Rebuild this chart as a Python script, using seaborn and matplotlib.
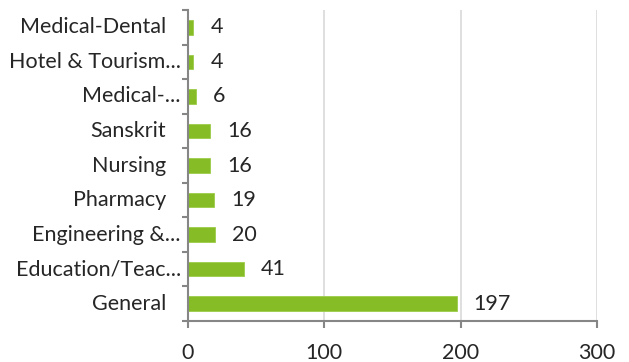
import matplotlib
matplotlib.use("Agg")
import matplotlib.pyplot as plt
import matplotlib.transforms as mtransforms
import seaborn as sns
import pandas as pd
import numpy as np

categories = ["Medical-Dental", "Hotel & Tourism...", "Medical-...", "Sanskrit", "Nursing",
              "Pharmacy", "Engineering &...", "Education/Teac...", "General"]
values = [4, 4, 6, 16, 16, 19, 20, 41, 197]
truncated = [False, True, True, False, False, False, True, True, False]
xticks = [0, 100, 200, 300]

sns.set_theme(style="white")
plt.rcParams['font.family'] = ['Lato', 'DejaVu Sans']

df = pd.DataFrame({"cat": categories, "val": values})

fig = plt.figure(figsize=(6.29, 3.62), dpi=100)
ax = fig.add_axes([188/629, 1 - 321/362, (597-188)/629, (321-10)/362])

sns.barplot(data=df, y="cat", x="val", orient="h", color="#86BC25", width=0.42,
            saturation=1, ax=ax, edgecolor="#9ccc4a", linewidth=0.6)

FS = 15.5
ax.set_xlim(0, 300)
ax.set_ylim(len(categories) - 0.5, -0.5)
ax.set_xticks(xticks)
ax.set_xticklabels([str(t) for t in xticks], fontsize=FS, color="#262626")
ax.set_xlabel("")
ax.set_ylabel("")
ax.grid(axis="x", color="#D9D9D9", linewidth=1.2)
ax.set_axisbelow(True)

for s in ["top", "right"]:
    ax.spines[s].set_visible(False)
for s in ["left", "bottom"]:
    ax.spines[s].set_color("#868686")
    ax.spines[s].set_linewidth(1.5)

ax.tick_params(axis="x", length=5, width=1.5, color="#868686", pad=11, bottom=True, direction="out")
ax.set_yticks(range(len(categories)))
ax.set_yticklabels([])
ax.tick_params(axis="y", which="major", length=0)
ax.set_yticks(np.arange(-0.5, len(categories), 1.0), minor=True)
ax.tick_params(axis="y", which="minor", length=4.5, width=1.5, color="#868686", left=True, direction="out")

trans = mtransforms.blended_transform_factory(ax.transAxes, ax.transData)
for i, (c, tr) in enumerate(zip(categories, truncated)):
    off = -7 if tr else -22
    t = mtransforms.offset_copy(trans, fig=fig, x=off, y=0, units="dots")
    ax.text(0, i, c, transform=t, ha="right", va="center", fontsize=FS, color="#262626")

for i, v in enumerate(values):
    t = mtransforms.offset_copy(ax.transData, fig=fig, x=17, y=0, units="dots")
    ax.text(v, i, str(v), transform=t, ha="left", va="center", fontsize=FS, color="#262626")

fig.savefig("out.png", dpi=100)
